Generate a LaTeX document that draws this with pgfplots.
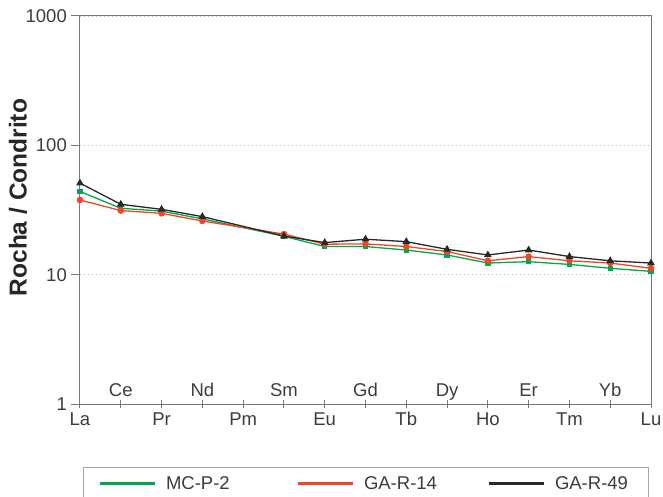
\documentclass[border=0pt]{standalone}
\usepackage{pgfplots}
\pgfplotsset{compat=1.18}
\usepackage{fontspec}
\setmainfont{Liberation Sans}
\definecolor{cgreen}{RGB}{0,168,80}
\definecolor{cred}{RGB}{240,70,40}
\definecolor{cblack}{RGB}{40,40,40}
\definecolor{axgray}{RGB}{120,120,120}
\definecolor{txtgray}{RGB}{60,60,60}
\begin{document}
\begin{tikzpicture}
\begin{axis}[
    name=ax,
    scale only axis,
    width=571pt, height=388pt,
    ymode=log,
    ymin=1, ymax=1000,
    xmin=0, xmax=14,
    clip=false,
    axis line style={axgray, line width=1pt},
    every tick/.style={axgray, line width=1pt},
    ytick={1,10,100,1000},
    yminorticks=false,
    log ticks with fixed point,
    /pgf/number format/1000 sep={},
    ytick pos=left,
    xtick pos=bottom,
    major tick length=9pt,
    ytick align=outside,
    xtick align=center,
    xtick={0,2,4,6,8,10,12,14},
    xticklabels={La,Pr,Pm,Eu,Tb,Ho,Tm,Lu},
    extra x ticks={1,3,5,7,9,11,13},
    extra x tick labels={Ce,Nd,Sm,Gd,Dy,Er,Yb},
    extra x tick style={xticklabel style={anchor=base, yshift=29pt}, xtick align=center, major tick length=9pt},
    xticklabel style={font=\fontsize{18.5pt}{21pt}\selectfont, text=txtgray, anchor=base, yshift=-17.5pt},
    yticklabel style={font=\fontsize{18.5pt}{21pt}\selectfont, text=txtgray, inner xsep=4pt},
    /pgf/number format/assume math mode=true,
    ymajorgrids=true,
    xmajorgrids=false,
    grid style={gray!50, line width=0.8pt, dash pattern=on 1pt off 3pt},
    ylabel={\textbf{Rocha / Condrito}},
    every axis y label/.style={at={(axis description cs:-0.1086,0.532)}, rotate=90, anchor=center, font=\fontsize{24.5pt}{27pt}\selectfont, text=black!85},
    legend columns=3,
    legend style={at={(axis description cs:0.5,0)}, anchor=north, yshift=-63pt,
        draw=gray!70, line width=0.8pt, inner xsep=15pt, inner ysep=7pt,
        font=\fontsize{18.5pt}{21pt}\selectfont, text=txtgray,
        nodes={inner xsep=0pt, inner ysep=2pt},
        /tikz/every odd column/.append style={column sep=10pt},
        /tikz/every even column/.append style={column sep=13pt}},
    legend cell align=left,
    legend image code/.code={\draw[#1, line width=3pt, mark=none] (0pt,0pt) -- (55pt,0pt);},
]
% MC-P-2
\addplot[cgreen, line width=1.3pt, mark=square*, mark size=2pt, mark options={solid}] coordinates {
    (0,44) (1,32.6) (2,31) (3,27) (5,19.8) (6,16.5) (7,16.5) (8,15.5)
    (9,14.2) (10,12.3) (11,12.6) (12,12.0) (13,11.2) (14,10.6)
};
\addlegendentry{\makebox[117pt][l]{MC-P-2}}
% GA-R-14
\addplot[cred, line width=1.3pt, mark=*, mark size=2.6pt] coordinates {
    (0,37.8) (1,31.3) (2,29.8) (3,26) (5,20.6) (6,17.2) (7,17.3) (8,16.5)
    (9,15.1) (10,12.8) (11,13.8) (12,12.8) (13,12.3) (14,11.2)
};
\addlegendentry{\makebox[110pt][l]{GA-R-14}}
% GA-R-49
\addplot[cblack, line width=1.3pt, mark=triangle*, mark size=3.2pt] coordinates {
    (0,51) (1,35) (2,32) (3,28.1) (5,19.9) (6,17.7) (7,18.8) (8,18)
    (9,15.7) (10,14.2) (11,15.5) (12,13.8) (13,12.8) (14,12.3)
};
\addlegendentry{\makebox[78pt][l]{GA-R-49}}
\end{axis}
\pgfresetboundingbox
\path (ax.south west) ++(-80pt,-93pt) rectangle ++(663pt,497pt);
\end{tikzpicture}
\end{document}
